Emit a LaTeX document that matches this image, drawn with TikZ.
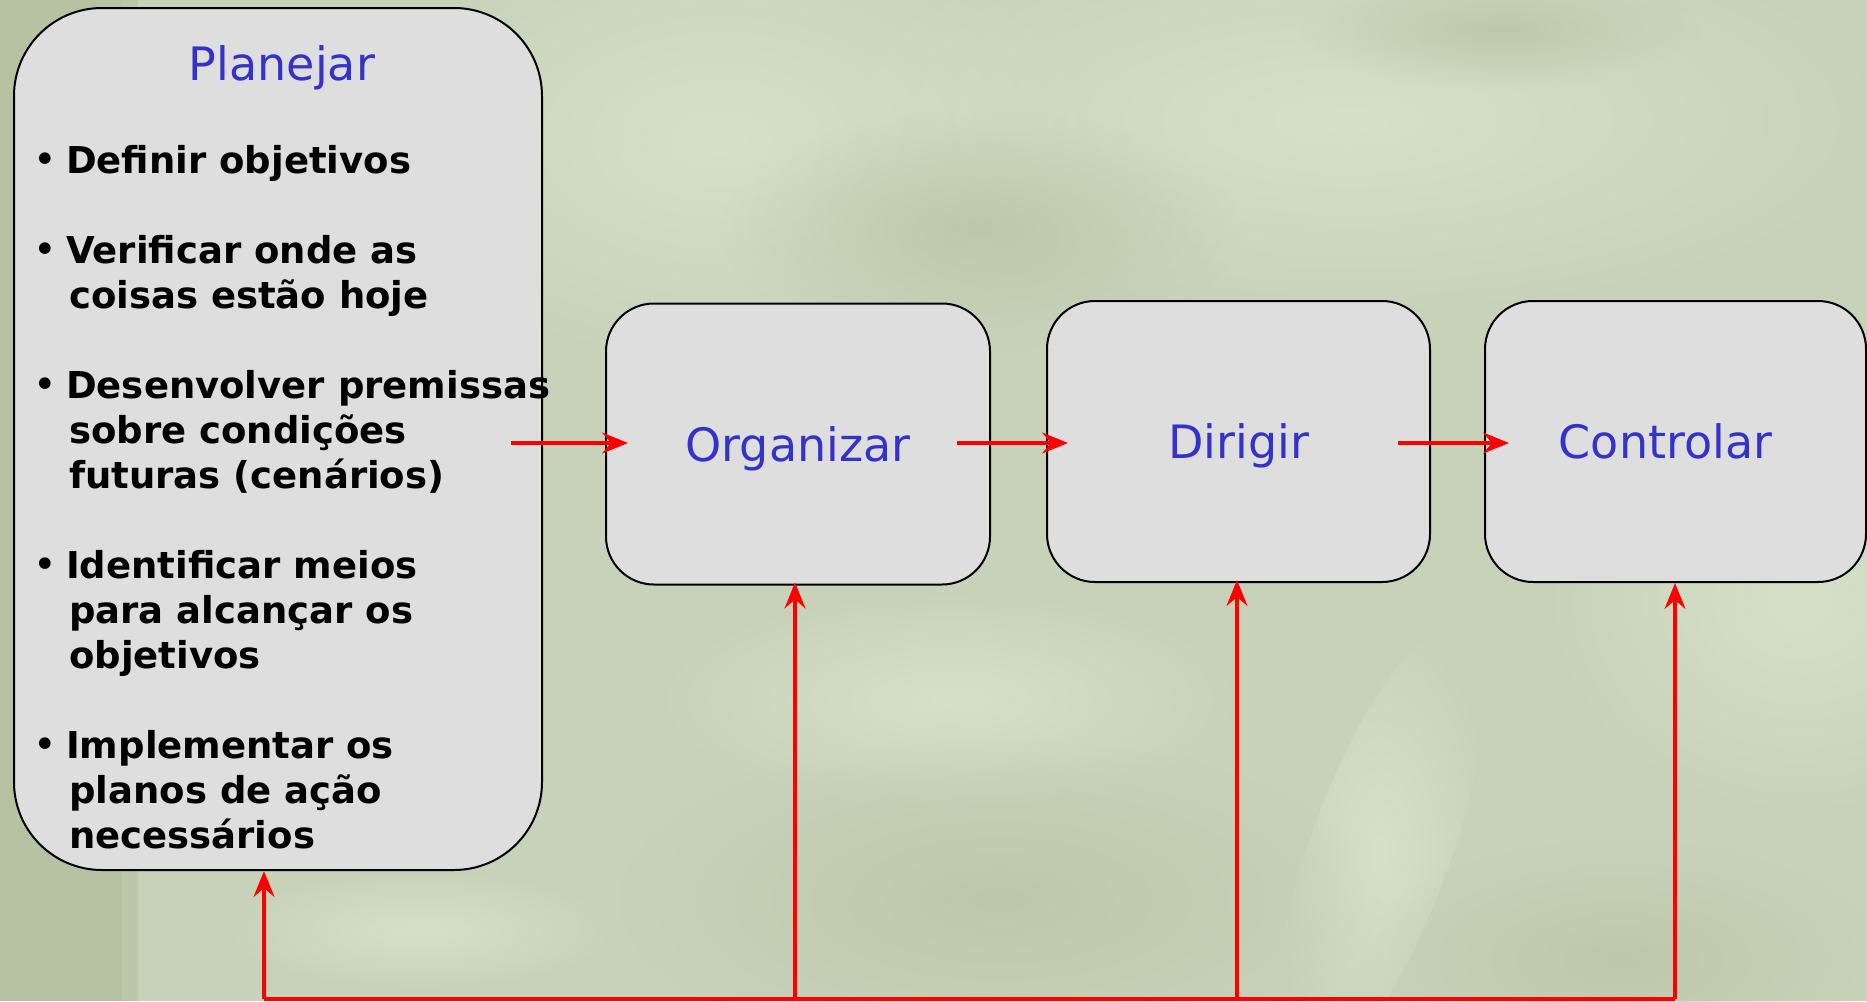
\documentclass[tikz,border=0pt]{standalone}
\usepackage{fontspec}
\setmainfont{DejaVu Sans}
\usetikzlibrary{arrows.meta,calc,fadings}
\tikzfading[name=softblob, inner color=transparent!0, outer color=transparent!100]
\definecolor{bgbase}{HTML}{C8D2B9}
\definecolor{bglight}{HTML}{D7E1C9}
\definecolor{bgdark}{HTML}{BDC8AB}
\definecolor{bgstrip}{HTML}{B6C2A1}
\definecolor{boxfill}{HTML}{DEDEDE}
\definecolor{titleblue}{HTML}{3333CC}
\definecolor{arrred}{HTML}{FF0000}
\newcommand{\mybul}{{\mdseries\fontsize{40}{45}\selectfont •}}
\tikzset{
  stagebox/.style={draw=black, line width=2pt, fill=boxfill, rounded corners=48pt,
    minimum width=384pt, minimum height=281pt, inner sep=0pt, text=titleblue,
    font=\fontsize{46}{55}\selectfont, text height=40pt, text depth=6pt},
  planbox/.style={draw=black, line width=2pt, fill=boxfill, rounded corners=88pt,
    minimum width=528pt, minimum height=862pt, inner sep=0pt},
  titletext/.style={text=titleblue, font=\fontsize{46}{55}\selectfont, inner sep=0pt},
  listtext/.style={font=\bfseries\fontsize{37}{45}\selectfont, inner sep=0pt, align=left},
  flow/.style={draw=arrred, line width=3.2pt, -{Stealth[length=26pt,width=21pt,inset=9pt]}},
  feed/.style={draw=arrred, line width=3.2pt},
  blob/.style={path fading=softblob}
}
\begin{document}
\begin{tikzpicture}[x=1pt,y=-1pt]
% background
\fill[bgbase] (0,0) rectangle (1867,1001);
\useasboundingbox (0,0) rectangle (1867,1001);
\begin{scope}
\clip (0,0) rectangle (1867,1001);
\fill[bglight, blob] (720,140) ellipse (380 and 230);
\fill[bglight, blob] (1350,120) ellipse (560 and 200);
\fill[bglight, blob] (1800,600) ellipse (260 and 220);
\fill[bglight, blob] (950,700) ellipse (300 and 110);
\fill[bglight, blob, rotate around={70:(1380,850)}] (1380,850) ellipse (240 and 70);
\fill[bglight, blob] (420,930) ellipse (200 and 60);
\fill[bgdark, blob] (980,230) ellipse (260 and 120);
\fill[bgdark, blob] (1000,900) ellipse (380 and 160);
\fill[bgdark, blob] (1620,960) ellipse (260 and 120);
\fill[bgdark, blob] (1500,30) ellipse (200 and 60);
\fill[bgstrip] (0,0) rectangle (122,1001);
\fill[bgstrip!70!bgbase] (122,0) rectangle (138,1001);
\end{scope}

% boxes
\node[planbox] (plan) at (278,439) {};
\node[titletext] (plantitle) at (282,68) {Planejar};
\node[listtext, anchor=north west] (planlist) at (33,142) {%
\begin{tabular}{@{}p{33pt}@{}l@{}}
\mybul&Definir objetivos\\
&\\
\mybul&Verificar onde as\\
&\hspace{3pt}coisas estão hoje\\
&\\
\mybul&Desenvolver premissas\\
&\hspace{3pt}sobre condições\\
&\hspace{3pt}futuras (cenários)\\
&\\
\mybul&Identificar meios\\
&\hspace{3pt}para alcançar os\\
&\hspace{3pt}objetivos\\
&\\
\mybul&Implementar os\\
&\hspace{3pt}planos de ação\\
&\hspace{3pt}necessários
\end{tabular}};

\node[stagebox] (org) at (798,444) {Organizar};
\node[stagebox, minimum width=383pt] (dir) at (1238.5,441.5) {Dirigir};
\node[stagebox, minimum width=381pt] (ctl) at (1675.5,441.5) {\hspace{-20pt}Controlar};

% forward arrows
\draw[flow] ($(plan.east |- org.west)+(-32,-1)$) -- ($(org.west)+(23,-1)$);
\draw[flow] ($(org.east)+(-34,-1)$) -- ($(dir.west |- org.west)+(22,-1)$);
\draw[flow] ($(dir.east |- org.west)+(-33,-1)$) -- ($(ctl.west |- org.west)+(25,-1)$);

% feedback
\coordinate (fp) at (264,999);
\coordinate (fo) at (795,999);
\coordinate (fd) at (1237,997);
\coordinate (fc) at (1675,999);
\draw[feed] (fp) -- (fc);
\draw[flow] (fp) -- (fp |- plan.south);
\draw[flow] (fo) -- ($(fo |- org.south)+(0,-3)$);
\draw[flow] (fd) -- ($(fd |- dir.south)+(0,-3)$);
\draw[flow] (fc) -- (fc |- ctl.south);
\end{tikzpicture}
\end{document}
